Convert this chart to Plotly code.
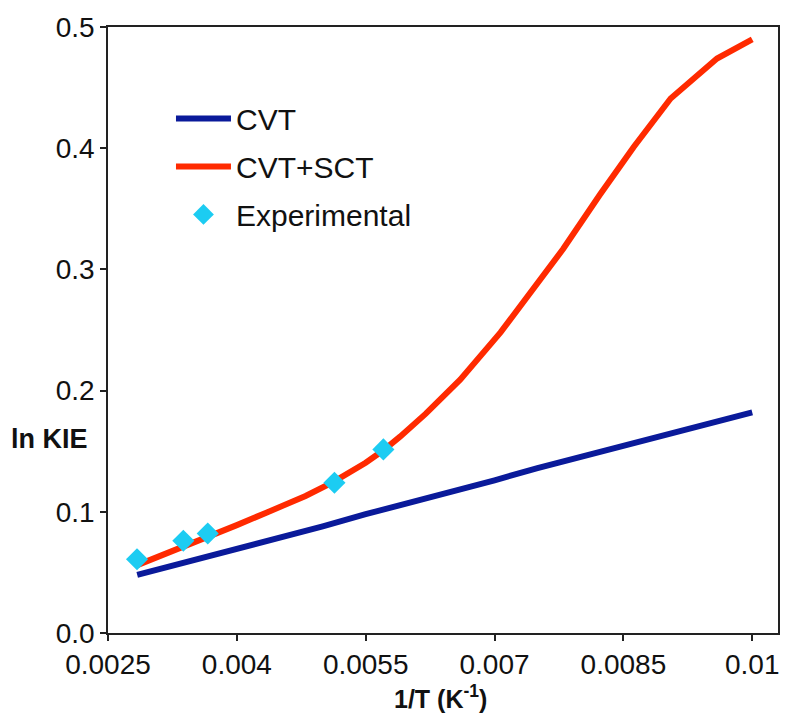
import plotly.graph_objects as go

# data
cvt_x = [0.00284, 0.00338, 0.00366, 0.0040, 0.0045, 0.0050, 0.0055, 0.0060,
         0.0065, 0.0070, 0.0075, 0.0080, 0.0085, 0.0090, 0.0095, 0.0100]
cvt_y = [0.048, 0.058, 0.062, 0.069, 0.078, 0.088, 0.098, 0.107,
         0.117, 0.126, 0.136, 0.145, 0.155, 0.164, 0.173, 0.182]

sct_x = [0.00284, 0.00338, 0.00366, 0.0040, 0.00435, 0.0048, 0.00512, 0.0055,
         0.00571, 0.0059, 0.0062, 0.0066, 0.00707, 0.00745, 0.0078, 0.00823,
         0.00862, 0.00905, 0.00959, 0.0100]
sct_y = [0.056, 0.071, 0.079, 0.089, 0.0995, 0.113, 0.1245, 0.1405,
         0.151, 0.162, 0.181, 0.209, 0.248, 0.284, 0.317, 0.362,
         0.401, 0.441, 0.474, 0.4897]

exp_x = [0.002838, 0.003377, 0.003661, 0.005136, 0.005706]
exp_y = [0.0608, 0.0761, 0.0821, 0.124, 0.1515]

x_ticks = [0.0025, 0.004, 0.0055, 0.007, 0.0085, 0.01]
x_labels = ["0.0025", "0.004", "0.0055", "0.007", "0.0085", "0.01"]
y_ticks = [0.0, 0.1, 0.2, 0.3, 0.4, 0.5]
y_labels = ["0.0", "0.1", "0.2", "0.3", "0.4", "0.5"]

FONT = "Liberation Sans, Arial, sans-serif"

fig = go.Figure()
fig.add_trace(go.Scatter(x=cvt_x, y=cvt_y, mode="lines", name="CVT", legendgroup="a",
                         line=dict(color="#0A1A9A", width=6)))
fig.add_trace(go.Scatter(x=sct_x, y=sct_y, mode="lines", name="CVT+SCT", legendgroup="b",
                         line=dict(color="#FF2A00", width=6)))
fig.add_trace(go.Scatter(x=exp_x, y=exp_y, mode="markers", name="Experimental",
                         legendgroup="c",
                         marker=dict(symbol="diamond", size=17, color="#1CCCF2")))

axis_common = dict(showline=True, linecolor="#222", linewidth=1.5, mirror=True,
                   ticks="outside", ticklen=6, tickcolor="#222", tickwidth=1.5,
                   showgrid=False, zeroline=False,
                   tickfont=dict(family=FONT, size=28, color="#111"))

fig.update_xaxes(range=[0.0025, 0.0103], tickvals=x_ticks, ticktext=x_labels,
                 **axis_common)
fig.update_yaxes(range=[0, 0.5], tickvals=y_ticks, ticktext=y_labels,
                 **axis_common)

fig.add_annotation(text="<b>1/T (K<sup>-1</sup>)</b>", xref="paper", yref="paper",
                   x=0.497, y=(633 - 697) / 610, xanchor="center", yanchor="middle",
                   showarrow=False, font=dict(family=FONT, size=25, color="#111"))
fig.add_annotation(text="<b>ln KIE</b>", xref="paper", yref="paper",
                   x=-0.027, y=(633 - 438) / 610, xanchor="right", yanchor="middle",
                   showarrow=False, font=dict(family=FONT, size=27, color="#111"))

fig.update_layout(
    width=800, height=718,
    margin=dict(l=108, r=22, t=23, b=85),
    plot_bgcolor="white", paper_bgcolor="white",
    showlegend=True,
    legend=dict(x=0.094, y=0.892, xanchor="left", yanchor="top",
                font=dict(family=FONT, size=30, color="#111"),
                itemwidth=55,
                bgcolor="rgba(0,0,0,0)", tracegroupgap=6),
    font=dict(family=FONT),
)

fig.write_html("out.html", config={"displayModeBar": False},
               post_script="document.body.style.margin='0px';")
